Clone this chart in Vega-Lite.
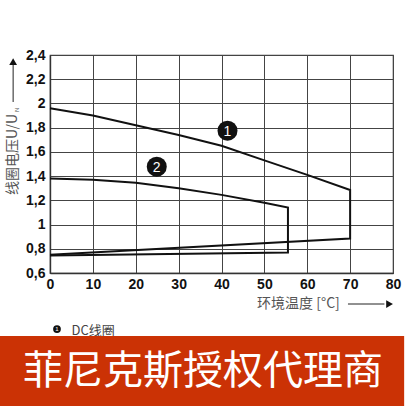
{
  "$schema": "https://vega.github.io/schema/vega-lite/v6.json",
  "autosize": "none",
  "width": 343,
  "height": 218,
  "padding": {"left": 50, "top": 55, "right": 13, "bottom": 133},
  "background": "white",
  "config": {
    "view": {"stroke": "#444", "strokeWidth": 1.2},
    "axis": {
      "labelFont": "Liberation Sans",
      "labelFontWeight": "bold",
      "labelFontSize": 14,
      "labelColor": "#111",
      "domainColor": "#333",
      "domainWidth": 1.4,
      "gridColor": "#444",
      "gridOpacity": 1,
      "gridWidth": 1,
      "ticks": false
    }
  },
  "layer": [
    {
      "data": {"values": [{"label": "1", "t": 41.4, "u": 1.775}, {"label": "2", "t": 24.9, "u": 1.478}]},
      "layer": [
        {
          "mark": {"type": "point", "shape": "circle", "filled": true, "color": "#111", "opacity": 1, "size": 400},
          "encoding": {
            "x": {"field": "t", "type": "quantitative", "title": null, "axis": {"values": [0, 10, 20, 30, 40, 50, 60, 70, 80], "grid": true, "labelOverlap": false, "labelPadding": 4, "labelFlush": false}},
            "y": {"field": "u", "type": "quantitative", "title": null, "axis": {"values": [0.6, 0.8, 1, 1.2, 1.4, 1.6, 1.8, 2, 2.2, 2.4], "format": ".2~f", "labelExpr": "replace(datum.label, '.', ',')", "grid": true, "labelOverlap": false, "labelPadding": 5, "labelFlush": false}}
          }
        },
        {
          "mark": {"type": "text", "color": "white", "font": "Liberation Sans", "fontSize": 14, "baseline": "middle", "align": "center", "dy": 1},
          "encoding": {
            "x": {"field": "t", "type": "quantitative", "title": null, "axis": {"values": [0, 10, 20, 30, 40, 50, 60, 70, 80], "grid": true, "labelOverlap": false, "labelPadding": 4, "labelFlush": false}},
            "y": {"field": "u", "type": "quantitative", "title": null, "axis": {"values": [0.6, 0.8, 1, 1.2, 1.4, 1.6, 1.8, 2, 2.2, 2.4], "format": ".2~f", "labelExpr": "replace(datum.label, '.', ',')", "grid": true, "labelOverlap": false, "labelPadding": 5, "labelFlush": false}},
            "text": {"field": "label"}
          }
        }
      ]
    },
    {
      "data": {"values": [{"text": "线圈电压U/U", "sub": "N"}]},
      "layer": [
        {
          "mark": {"type": "text", "clip": false, "angle": 270, "align": "left", "baseline": "middle", "font": "Noto Sans CJK SC", "fontSize": 14, "color": "#555"},
          "encoding": {
            "x": {"datum": -8.6, "title": null, "axis": {"values": [0, 10, 20, 30, 40, 50, 60, 70, 80], "grid": true, "labelOverlap": false, "labelPadding": 4, "labelFlush": false}},
            "y": {"datum": 1.244, "title": null, "axis": {"values": [0.6, 0.8, 1, 1.2, 1.4, 1.6, 1.8, 2, 2.2, 2.4], "format": ".2~f", "labelExpr": "replace(datum.label, '.', ',')", "grid": true, "labelOverlap": false, "labelPadding": 5, "labelFlush": false}},
            "text": {"field": "text"}
          }
        },
        {
          "mark": {"type": "text", "clip": false, "angle": 270, "align": "left", "baseline": "middle", "font": "Liberation Sans", "fontSize": 6, "color": "#555"},
          "encoding": {
            "x": {"datum": -7.8, "title": null, "axis": {"values": [0, 10, 20, 30, 40, 50, 60, 70, 80], "grid": true, "labelOverlap": false, "labelPadding": 4, "labelFlush": false}},
            "y": {"datum": 1.93, "title": null, "axis": {"values": [0.6, 0.8, 1, 1.2, 1.4, 1.6, 1.8, 2, 2.2, 2.4], "format": ".2~f", "labelExpr": "replace(datum.label, '.', ',')", "grid": true, "labelOverlap": false, "labelPadding": 5, "labelFlush": false}},
            "text": {"field": "sub"}
          }
        },
        {
          "mark": {"type": "rule", "clip": false, "color": "#222", "strokeWidth": 1},
          "encoding": {
            "x": {"datum": -8.6, "title": null, "axis": {"values": [0, 10, 20, 30, 40, 50, 60, 70, 80], "grid": true, "labelOverlap": false, "labelPadding": 4, "labelFlush": false}},
            "y": {"datum": 2.012, "title": null, "axis": {"values": [0.6, 0.8, 1, 1.2, 1.4, 1.6, 1.8, 2, 2.2, 2.4], "format": ".2~f", "labelExpr": "replace(datum.label, '.', ',')", "grid": true, "labelOverlap": false, "labelPadding": 5, "labelFlush": false}},
            "y2": {"datum": 2.33}
          }
        },
        {
          "mark": {"type": "point", "clip": false, "shape": "triangle-up", "filled": true, "color": "#111", "opacity": 1, "size": 60},
          "encoding": {
            "x": {"datum": -8.6, "title": null, "axis": {"values": [0, 10, 20, 30, 40, 50, 60, 70, 80], "grid": true, "labelOverlap": false, "labelPadding": 4, "labelFlush": false}},
            "y": {"datum": 2.345, "title": null, "axis": {"values": [0.6, 0.8, 1, 1.2, 1.4, 1.6, 1.8, 2, 2.2, 2.4], "format": ".2~f", "labelExpr": "replace(datum.label, '.', ',')", "grid": true, "labelOverlap": false, "labelPadding": 5, "labelFlush": false}}
          }
        }
      ]
    },
    {
      "data": {"values": [{"text": "环境温度 [°C]"}]},
      "layer": [
        {
          "mark": {"type": "text", "clip": false, "align": "left", "baseline": "middle", "font": "Noto Sans CJK SC", "fontSize": 14, "color": "#555"},
          "encoding": {
            "x": {"datum": 48.3, "title": null, "axis": {"values": [0, 10, 20, 30, 40, 50, 60, 70, 80], "grid": true, "labelOverlap": false, "labelPadding": 4, "labelFlush": false}},
            "y": {"datum": 0.344, "title": null, "axis": {"values": [0.6, 0.8, 1, 1.2, 1.4, 1.6, 1.8, 2, 2.2, 2.4], "format": ".2~f", "labelExpr": "replace(datum.label, '.', ',')", "grid": true, "labelOverlap": false, "labelPadding": 5, "labelFlush": false}},
            "text": {"field": "text"}
          }
        },
        {
          "mark": {"type": "rule", "clip": false, "color": "#222", "strokeWidth": 1},
          "encoding": {
            "x": {"datum": 69.5, "title": null, "axis": {"values": [0, 10, 20, 30, 40, 50, 60, 70, 80], "grid": true, "labelOverlap": false, "labelPadding": 4, "labelFlush": false}},
            "x2": {"datum": 78},
            "y": {"datum": 0.344, "title": null, "axis": {"values": [0.6, 0.8, 1, 1.2, 1.4, 1.6, 1.8, 2, 2.2, 2.4], "format": ".2~f", "labelExpr": "replace(datum.label, '.', ',')", "grid": true, "labelOverlap": false, "labelPadding": 5, "labelFlush": false}}
          }
        },
        {
          "mark": {"type": "point", "clip": false, "shape": "triangle-right", "filled": true, "color": "#111", "opacity": 1, "size": 60},
          "encoding": {
            "x": {"datum": 79.2, "title": null, "axis": {"values": [0, 10, 20, 30, 40, 50, 60, 70, 80], "grid": true, "labelOverlap": false, "labelPadding": 4, "labelFlush": false}},
            "y": {"datum": 0.344, "title": null, "axis": {"values": [0.6, 0.8, 1, 1.2, 1.4, 1.6, 1.8, 2, 2.2, 2.4], "format": ".2~f", "labelExpr": "replace(datum.label, '.', ',')", "grid": true, "labelOverlap": false, "labelPadding": 5, "labelFlush": false}}
          }
        }
      ]
    },
    {
      "data": {"values": [{"label": "1", "text": "DC线圈"}]},
      "layer": [
        {
          "mark": {"type": "point", "clip": false, "shape": "circle", "filled": true, "color": "#111", "opacity": 1, "size": 60},
          "encoding": {
            "x": {"datum": 1.63, "title": null, "axis": {"values": [0, 10, 20, 30, 40, 50, 60, 70, 80], "grid": true, "labelOverlap": false, "labelPadding": 4, "labelFlush": false}},
            "y": {"datum": 0.137, "title": null, "axis": {"values": [0.6, 0.8, 1, 1.2, 1.4, 1.6, 1.8, 2, 2.2, 2.4], "format": ".2~f", "labelExpr": "replace(datum.label, '.', ',')", "grid": true, "labelOverlap": false, "labelPadding": 5, "labelFlush": false}}
          }
        },
        {
          "mark": {"type": "text", "clip": false, "align": "center", "baseline": "middle", "font": "Liberation Sans", "fontSize": 6, "color": "white"},
          "encoding": {
            "x": {"datum": 1.63, "title": null, "axis": {"values": [0, 10, 20, 30, 40, 50, 60, 70, 80], "grid": true, "labelOverlap": false, "labelPadding": 4, "labelFlush": false}},
            "y": {"datum": 0.137, "title": null, "axis": {"values": [0.6, 0.8, 1, 1.2, 1.4, 1.6, 1.8, 2, 2.2, 2.4], "format": ".2~f", "labelExpr": "replace(datum.label, '.', ',')", "grid": true, "labelOverlap": false, "labelPadding": 5, "labelFlush": false}},
            "text": {"field": "label"}
          }
        },
        {
          "mark": {"type": "text", "clip": false, "align": "left", "baseline": "middle", "font": "Noto Sans CJK SC", "fontSize": 13, "color": "#444"},
          "encoding": {
            "x": {"datum": 5.0, "title": null, "axis": {"values": [0, 10, 20, 30, 40, 50, 60, 70, 80], "grid": true, "labelOverlap": false, "labelPadding": 4, "labelFlush": false}},
            "y": {"datum": 0.125, "title": null, "axis": {"values": [0.6, 0.8, 1, 1.2, 1.4, 1.6, 1.8, 2, 2.2, 2.4], "format": ".2~f", "labelExpr": "replace(datum.label, '.', ',')", "grid": true, "labelOverlap": false, "labelPadding": 5, "labelFlush": false}},
            "text": {"field": "text"}
          }
        }
      ]
    },
    {
      "data": {"values": [{"text": "菲尼克斯授权代理商"}]},
      "layer": [
        {
          "mark": {"type": "rect", "clip": false, "color": "#cb3205", "opacity": 1},
          "encoding": {
            "x": {"datum": -11.7, "title": null, "axis": {"values": [0, 10, 20, 30, 40, 50, 60, 70, 80], "grid": true, "labelOverlap": false, "labelPadding": 4, "labelFlush": false}},
            "x2": {"datum": 82.6},
            "y": {"datum": 0.0796, "title": null, "axis": {"values": [0.6, 0.8, 1, 1.2, 1.4, 1.6, 1.8, 2, 2.2, 2.4], "format": ".2~f", "labelExpr": "replace(datum.label, '.', ',')", "grid": true, "labelOverlap": false, "labelPadding": 5, "labelFlush": false}},
            "y2": {"datum": -0.6}
          }
        },
        {
          "mark": {"type": "text", "clip": false, "align": "center", "baseline": "middle", "font": "Noto Sans CJK SC", "fontSize": 40, "color": "white"},
          "encoding": {
            "x": {"datum": 35.7, "title": null, "axis": {"values": [0, 10, 20, 30, 40, 50, 60, 70, 80], "grid": true, "labelOverlap": false, "labelPadding": 4, "labelFlush": false}},
            "y": {"datum": -0.218, "title": null, "axis": {"values": [0.6, 0.8, 1, 1.2, 1.4, 1.6, 1.8, 2, 2.2, 2.4], "format": ".2~f", "labelExpr": "replace(datum.label, '.', ',')", "grid": true, "labelOverlap": false, "labelPadding": 5, "labelFlush": false}},
            "text": {"field": "text"}
          }
        }
      ]
    },
    {
      "data": {
        "values": [
          {"curve": "1", "i": 0, "t": 0, "u": 1.96},
          {"curve": "1", "i": 1, "t": 10, "u": 1.9},
          {"curve": "1", "i": 2, "t": 20, "u": 1.82},
          {"curve": "1", "i": 3, "t": 30, "u": 1.74},
          {"curve": "1", "i": 4, "t": 40, "u": 1.65},
          {"curve": "1", "i": 5, "t": 50, "u": 1.53},
          {"curve": "1", "i": 6, "t": 60, "u": 1.41},
          {"curve": "1", "i": 7, "t": 70, "u": 1.285},
          {"curve": "1", "i": 8, "t": 70, "u": 0.885},
          {"curve": "1", "i": 9, "t": 0, "u": 0.75},
          {"curve": "2", "i": 0, "t": 0, "u": 1.38},
          {"curve": "2", "i": 1, "t": 10, "u": 1.37},
          {"curve": "2", "i": 2, "t": 20, "u": 1.345},
          {"curve": "2", "i": 3, "t": 30, "u": 1.3},
          {"curve": "2", "i": 4, "t": 40, "u": 1.245},
          {"curve": "2", "i": 5, "t": 50, "u": 1.18},
          {"curve": "2", "i": 6, "t": 55.5, "u": 1.14},
          {"curve": "2", "i": 7, "t": 55.5, "u": 0.77},
          {"curve": "2", "i": 8, "t": 0, "u": 0.745}
        ]
      },
      "mark": {"type": "line", "color": "#111", "strokeWidth": 2, "strokeJoin": "miter"},
      "encoding": {
        "x": {
          "field": "t", "type": "quantitative", "title": null,
          "scale": {"domain": [0, 80], "nice": false},
          "axis": {"values": [0, 10, 20, 30, 40, 50, 60, 70, 80], "grid": true, "labelOverlap": false, "labelPadding": 4, "labelFlush": false}
        },
        "y": {
          "field": "u", "type": "quantitative", "title": null,
          "scale": {"domain": [0.6, 2.4], "nice": false, "zero": false},
          "axis": {"values": [0.6, 0.8, 1, 1.2, 1.4, 1.6, 1.8, 2, 2.2, 2.4], "format": ".2~f", "labelExpr": "replace(datum.label, '.', ',')", "grid": true, "labelOverlap": false, "labelPadding": 5, "labelFlush": false}
        },
        "detail": {"field": "curve"},
        "order": {"field": "i", "type": "quantitative"}
      }
    }
  ]
}
